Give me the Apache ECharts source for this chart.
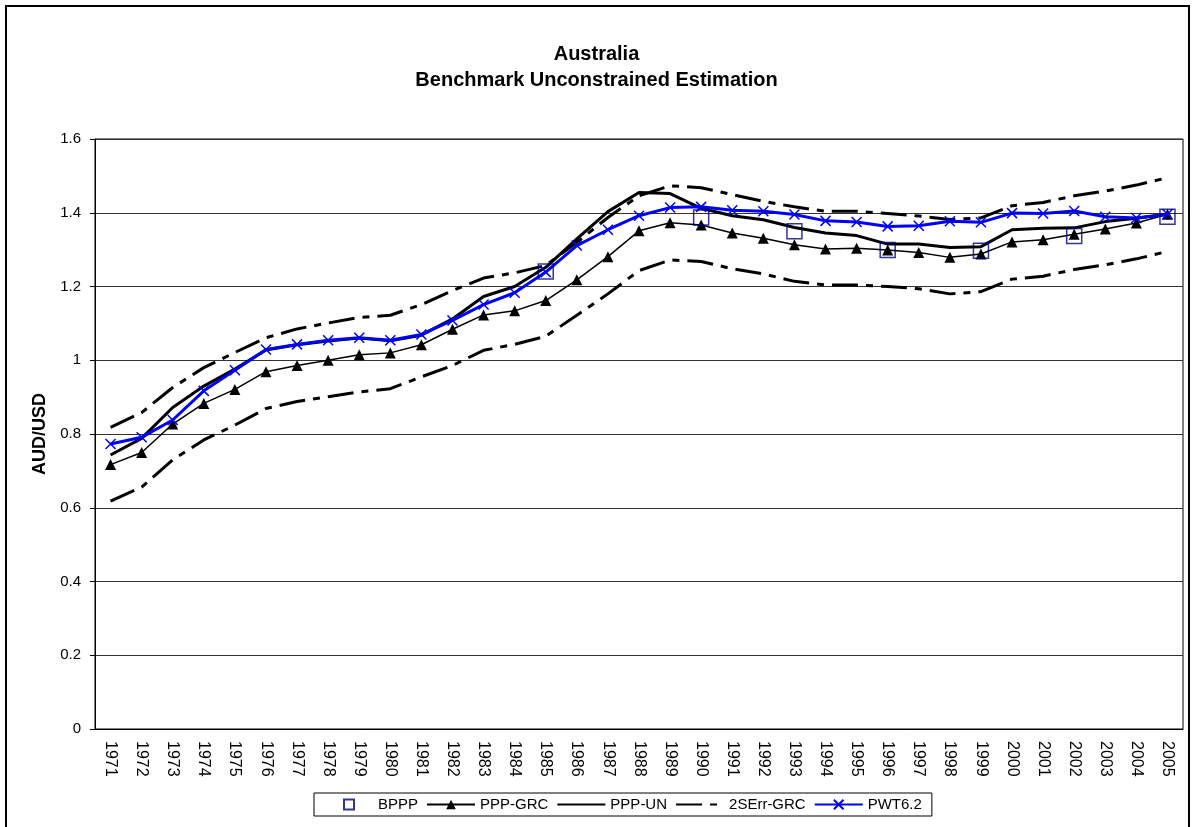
<!DOCTYPE html>
<html>
<head>
<meta charset="utf-8">
<script src="https://cdn.jsdelivr.net/npm/echarts@6/dist/echarts.min.js"></script>
<style>
  html, body { margin: 0; padding: 0; background: #fff; }
  #chart { width: 1193px; height: 827px; }
</style>
</head>
<body>
<div id="chart"></div>
<script>
// years on the category axis
const years = ['1971','1972','1973','1974','1975','1976','1977','1978','1979','1980',
  '1981','1982','1983','1984','1985','1986','1987','1988','1989','1990',
  '1991','1992','1993','1994','1995','1996','1997','1998','1999','2000',
  '2001','2002','2003','2004','2005']

// benchmark points (only some years)
const bpppYears = ['1985','1990','1993','1996','1999','2002','2005']
const bpppValues = [1.241, 1.387, 1.350, 1.299, 1.297, 1.337, 1.389]

const pppGrc = [0.717, 0.750, 0.827, 0.883, 0.921, 0.969, 0.986, 1.000, 1.015, 1.020,
  1.042, 1.084, 1.123, 1.134, 1.162, 1.218, 1.281, 1.351, 1.373, 1.367,
  1.345, 1.331, 1.313, 1.302, 1.304, 1.299, 1.292, 1.279, 1.288, 1.321,
  1.327, 1.342, 1.356, 1.372, 1.396]

const pppUn = [0.743, 0.788, 0.872, 0.930, 0.976, 1.028, 1.042, 1.052, 1.060, 1.053,
  1.068, 1.112, 1.173, 1.200, 1.252, 1.329, 1.403, 1.455, 1.452, 1.412,
  1.392, 1.381, 1.360, 1.345, 1.338, 1.315, 1.315, 1.306, 1.308, 1.354,
  1.358, 1.359, 1.376, 1.385, 1.396]

const errUpper = [0.818, 0.858, 0.926, 0.980, 1.021, 1.061, 1.085, 1.101, 1.116, 1.122,
  1.151, 1.189, 1.223, 1.237, 1.257, 1.320, 1.387, 1.446, 1.473, 1.468,
  1.449, 1.431, 1.416, 1.404, 1.404, 1.398, 1.391, 1.382, 1.386, 1.419,
  1.428, 1.446, 1.459, 1.475, 1.495]

const errLower = [0.618, 0.656, 0.730, 0.784, 0.824, 0.869, 0.888, 0.901, 0.914, 0.923,
  0.955, 0.986, 1.027, 1.043, 1.065, 1.122, 1.180, 1.243, 1.272, 1.268,
  1.248, 1.234, 1.214, 1.204, 1.204, 1.200, 1.194, 1.180, 1.186, 1.220,
  1.228, 1.246, 1.259, 1.275, 1.295]

const pwt62 = [0.773, 0.791, 0.838, 0.917, 0.973, 1.029, 1.043, 1.054, 1.061, 1.054,
  1.070, 1.108, 1.151, 1.183, 1.239, 1.311, 1.354, 1.392, 1.414, 1.416,
  1.407, 1.404, 1.395, 1.378, 1.375, 1.363, 1.365, 1.377, 1.374, 1.399,
  1.398, 1.405, 1.389, 1.386, 1.396]

const font = 'Liberation Sans, Arial, sans-serif'
const dash = [26, 8, 7, 8]
const hidden = 'rgba(0,0,0,0)' // keeps the legend from drawing a dot on plain lines

const chart = echarts.init(document.getElementById('chart'))
chart.setOption({
  animation: false,
  backgroundColor: '#fff',
  textStyle: { fontFamily: font },
  graphic: [{
    type: 'rect',
    shape: { x: 6, y: 6, width: 1183, height: 860 },
    style: { fill: 'none', stroke: '#000', lineWidth: 2 },
    silent: true
  }],
  title: {
    text: 'Australia\nBenchmark Unconstrained Estimation',
    left: 'center',
    top: 36,
    padding: [5, 5, 5, 15],
    textStyle: { fontSize: 20, fontWeight: 'bold', color: '#000', lineHeight: 26, fontFamily: font }
  },
  legend: {
    left: 314,
    top: 793,
    padding: [4, 10, 4, 10],
    itemGap: 8,
    itemWidth: 48,
    itemHeight: 12,
    borderColor: '#000',
    borderWidth: 1,
    textStyle: { fontSize: 15, color: '#000', fontFamily: font },
    data: [
      // square centred in a full-width icon box
      { name: 'BPPP', icon: 'path://M0,0M48,12M19,1L29,1L29,11L19,11Z' },
      'PPP-GRC', 'PPP-UN', '2SErr-GRC', 'PWT6.2'
    ]
  },
  grid: {
    left: 95,
    right: 10,
    top: 139,
    bottom: 98,
    show: true,
    borderColor: '#000',
    borderWidth: 1
  },
  xAxis: {
    type: 'category',
    data: years,
    boundaryGap: true,
    axisLine: { lineStyle: { color: '#000', width: 1 } },
    axisTick: { length: 5, lineStyle: { color: '#000' } },
    axisLabel: { rotate: -90, interval: 0, fontSize: 16, color: '#000', margin: 12, fontFamily: font }
  },
  yAxis: {
    type: 'value',
    min: 0,
    max: 1.6,
    interval: 0.2,
    name: 'AUD/USD',
    nameLocation: 'middle',
    nameGap: 42,
    nameTextStyle: { fontSize: 18, fontWeight: 'bold', color: '#000', fontFamily: font },
    axisLine: { show: true, lineStyle: { color: '#000', width: 1 } },
    axisTick: { show: true, length: 5, lineStyle: { color: '#000' } },
    axisLabel: { fontSize: 15, color: '#000', margin: 14, fontFamily: font },
    splitLine: { lineStyle: { color: '#333', width: 1 } }
  },
  series: [
    {
      name: 'BPPP',
      type: 'scatter',
      data: bpppYears.map((y, i) => [y, bpppValues[i]]),
      symbol: 'rect',
      symbolSize: 15,
      z: 10,
      itemStyle: { color: 'rgba(0,0,0,0)', borderColor: '#000080', borderWidth: 1.5 }
    },
    {
      name: 'PPP-GRC',
      type: 'line',
      data: pppGrc,
      symbol: 'triangle',
      symbolSize: 11,
      showAllSymbol: true,
      lineStyle: { color: '#000', width: 1.5 },
      itemStyle: { color: '#000' }
    },
    {
      name: 'PPP-UN',
      type: 'line',
      data: pppUn,
      symbol: 'none',
      lineStyle: { color: '#000', width: 3 },
      itemStyle: { color: hidden }
    },
    {
      name: '2SErr-GRC',
      type: 'line',
      data: errUpper,
      symbol: 'none',
      lineStyle: { color: '#000', width: 3, type: dash },
      itemStyle: { color: hidden }
    },
    {
      name: '2SErr-GRC',
      type: 'line',
      data: errLower,
      symbol: 'none',
      lineStyle: { color: '#000', width: 3, type: dash },
      itemStyle: { color: hidden }
    },
    {
      name: 'PWT6.2',
      type: 'line',
      data: pwt62,
      symbol: 'path://M0,0L10,10M10,0L0,10',
      symbolSize: 10,
      showAllSymbol: true,
      z: 5,
      lineStyle: { color: '#0000ff', width: 3 },
      itemStyle: { color: '#0000ff', borderColor: '#0000ff', borderWidth: 1.5 }
    }
  ]
})
</script>
</body>
</html>
